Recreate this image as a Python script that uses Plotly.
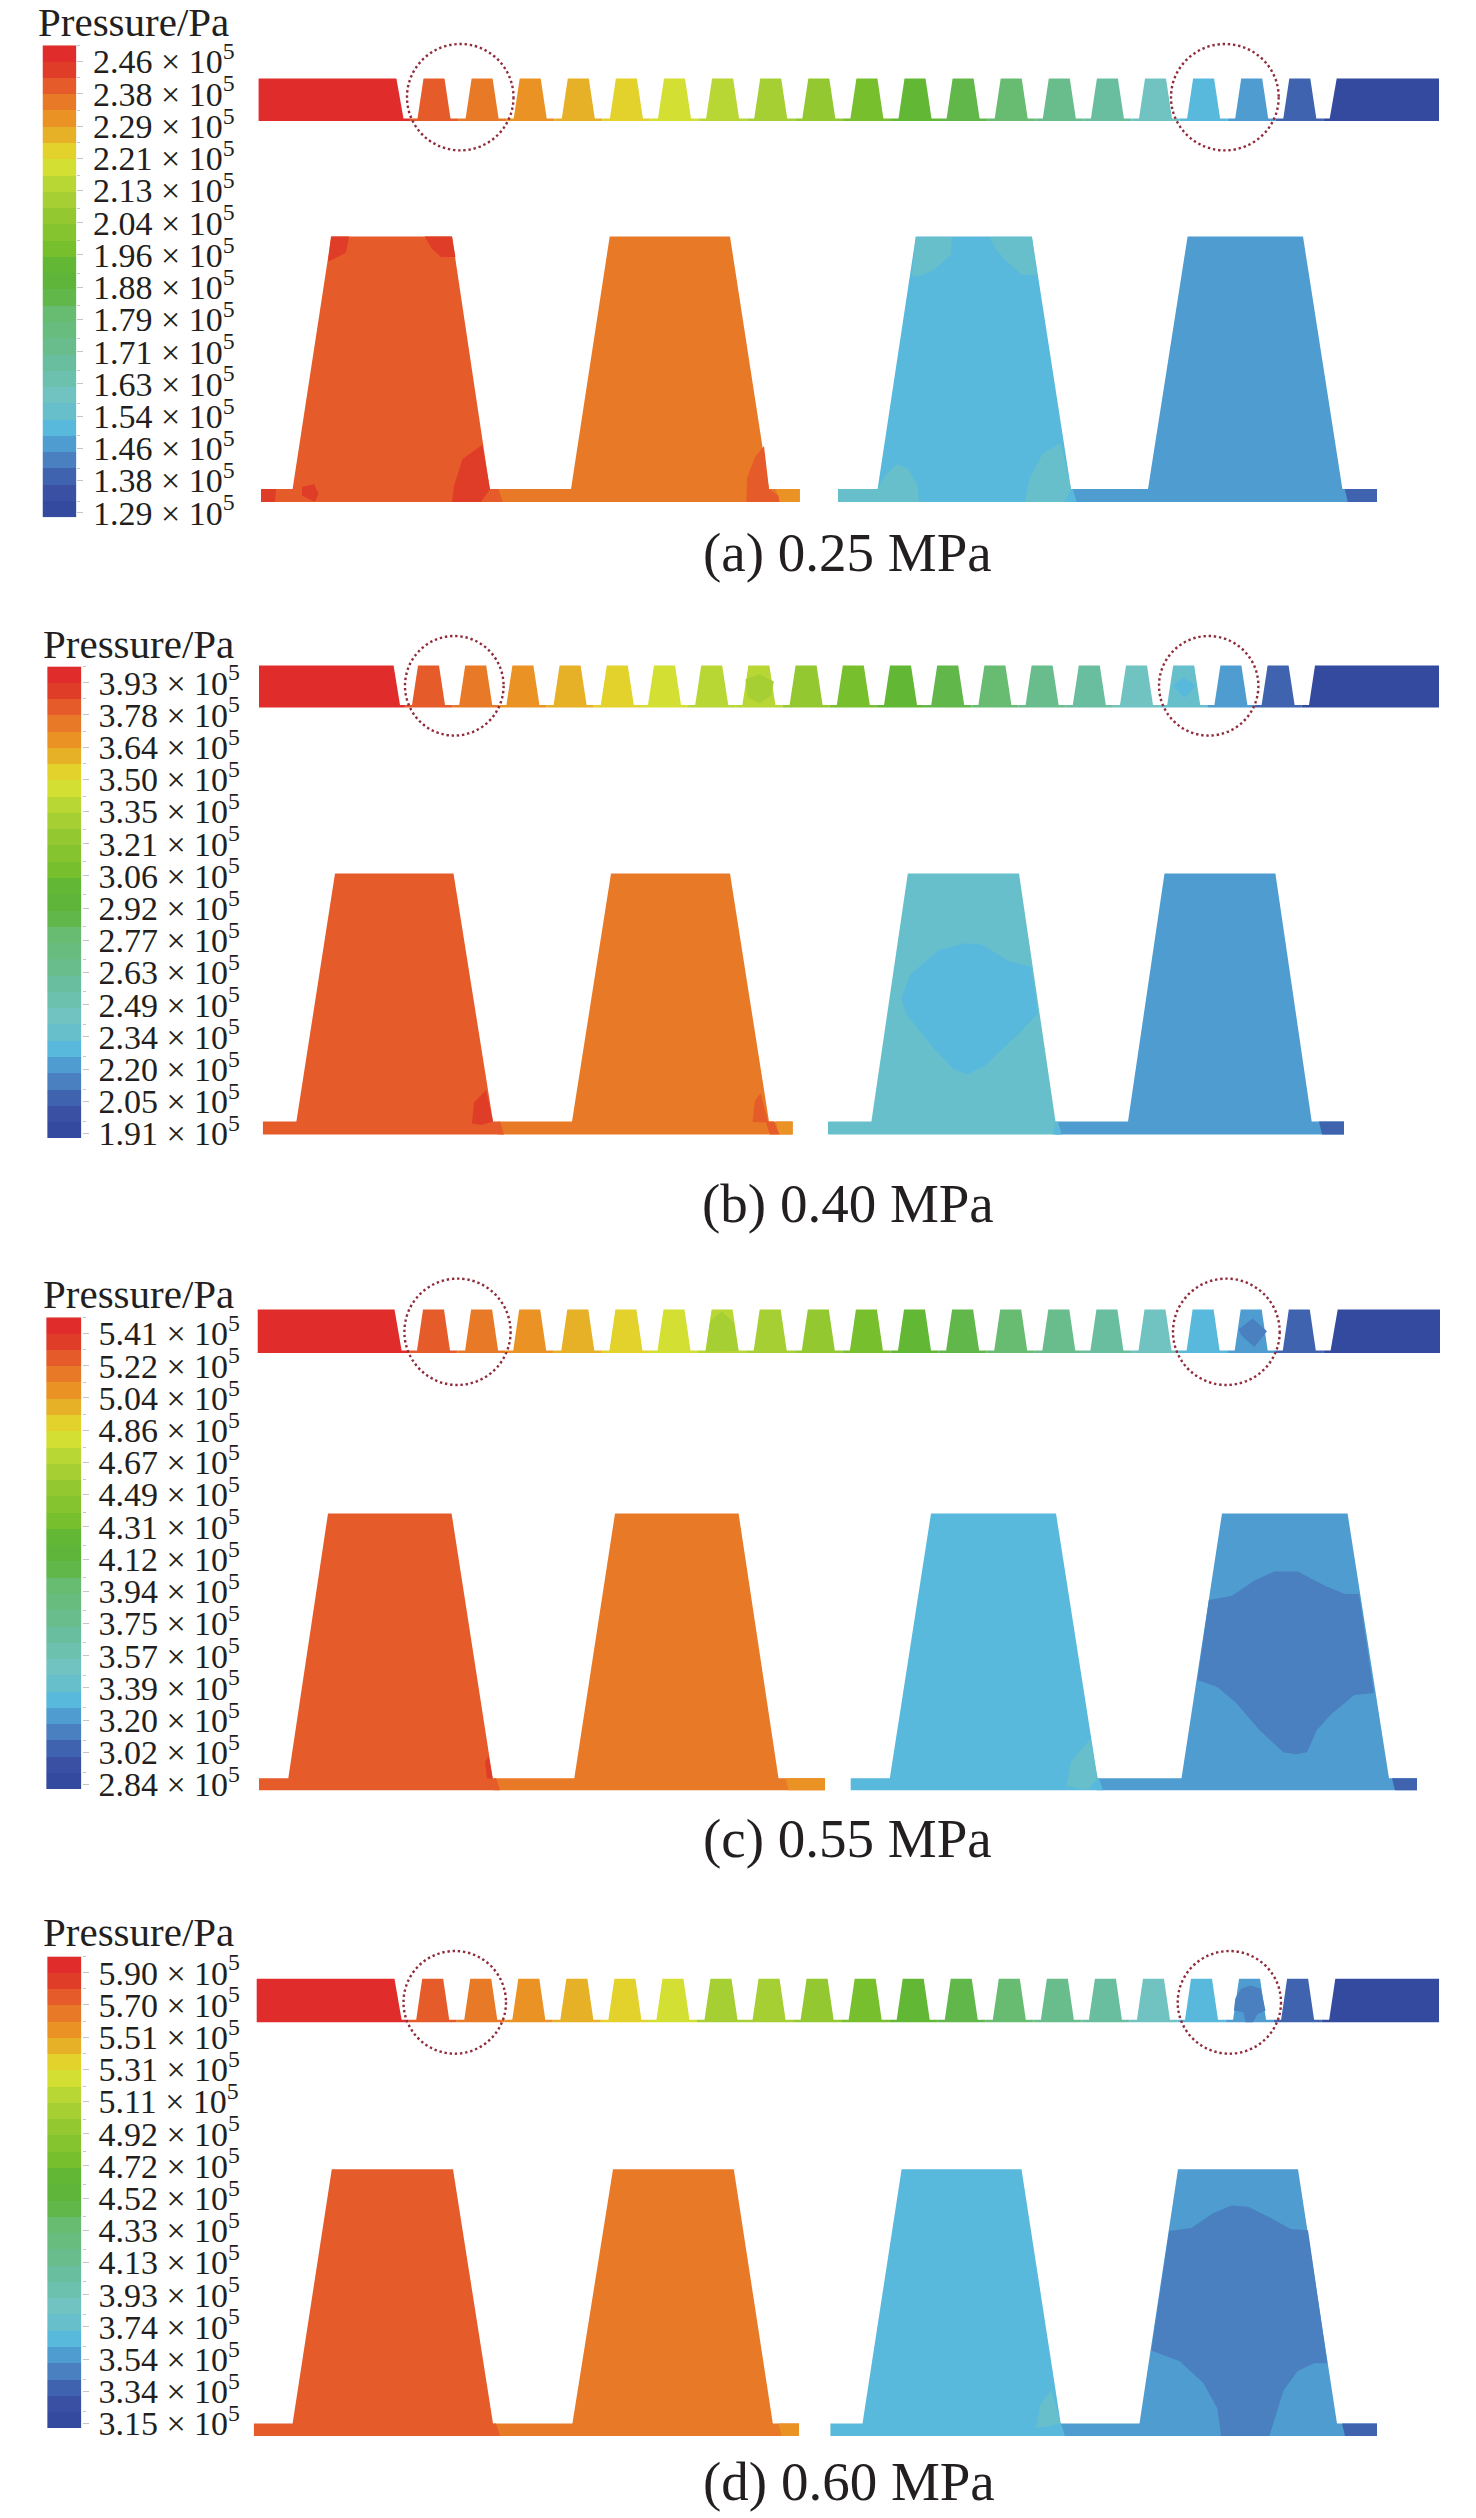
import plotly.graph_objects as go

# Pressure contours of a labyrinth seal at four inlet pressures.

PANELS = ["a", "b", "c", "d"]
CAPTIONS = ["(a) 0.25 MPa", "(b) 0.40 MPa", "(c) 0.55 MPa", "(d) 0.60 MPa"]
BAND_COLORS = ["#e02c2b", "#e03d28", "#e55b2a", "#e87a27", "#eb9224", "#e6b027", "#e2d22b", "#d3df32",
               "#b8d634", "#a6cf33", "#93c831", "#85c42f", "#78bf2e", "#62b734", "#5fb53a", "#62b74a",
               "#68bc72", "#68bc7e", "#69bd8c", "#6abea0", "#6cc0ae", "#70c3c1", "#68bfcc", "#58b9dc",
               "#4f9cd0", "#4a7fc0", "#3f63ae", "#3a50a3", "#334a9e"]

LEVELS_A = ["2.46", "2.38", "2.29", "2.21", "2.13", "2.04", "1.96", "1.88", "1.79", "1.71", "1.63", "1.54", "1.46", "1.38", "1.29"]
LEVELS_B = ["3.93", "3.78", "3.64", "3.50", "3.35", "3.21", "3.06", "2.92", "2.77", "2.63", "2.49", "2.34", "2.20", "2.05", "1.91"]
LEVELS_C = ["5.41", "5.22", "5.04", "4.86", "4.67", "4.49", "4.31", "4.12", "3.94", "3.75", "3.57", "3.39", "3.20", "3.02", "2.84"]
LEVELS_D = ["5.90", "5.70", "5.51", "5.31", "5.11", "4.92", "4.72", "4.52", "4.33", "4.13", "3.93", "3.74", "3.54", "3.34", "3.15"]
LEVELS = [LEVELS_A, LEVELS_B, LEVELS_C, LEVELS_D]

# colour bar box: left, right, top, bottom
BAR_A = [42.5, 76.3, 45.3, 517.3]
BAR_B = [47.2, 81.6, 666.4, 1138]
BAR_C = [46.2, 81.6, 1317.3, 1789]
BAR_D = [47.2, 81.6, 1956.4, 2428]
BARS = [BAR_A, BAR_B, BAR_C, BAR_D]

# band number (1 = top of the colour bar) of each of the 19 teeth
TEETH_A = [3, 4, 5, 6, 7, 8, 9, 10, 11, 13, 14, 16, 17, 19, 20, 22, 24, 25, 27]
TEETH_B = [3, 4, 5, 6, 7, 8, 9, 9, 11, 13, 14, 16, 17, 19, 20, 22, 23, 25, 27]
TEETH_D = [3, 4, 5, 6, 7, 8, 10, 10, 11, 13, 14, 16, 17, 19, 20, 22, 24, 25, 27]
TEETH = [TEETH_A, TEETH_B, TEETH_A, TEETH_D]

# strip: left, block top right, block foot right, first tooth centre, pitch,
# right block top left, right block foot left, right, top, land, bottom
STRIP_A = [258.6, 396.4, 403.5, 434, 48.1, 1336.7, 1329.7, 1439, 78.5, 118.6, 121]
STRIP_B = [259, 393.6, 400, 428.5, 47.2, 1315, 1309, 1439, 665.6, 705.1, 707.5]
STRIP_C = [257.7, 394.5, 401.6, 433.5, 48.1, 1337.7, 1330.6, 1440, 1309.4, 1350.5, 1352.9]
STRIP_D = [256.7, 394.5, 401.6, 432.7, 48.05, 1335.3, 1329.2, 1439, 1978.8, 2019.8, 2022.2]
STRIPS = [STRIP_A, STRIP_B, STRIP_C, STRIP_D]
TOOTH_TOP = 10.5
TOOTH_FOOT = 16.5

# enlarged teeth, x stops from left to right for the four teeth and their lands
BIG_X_A = [261, 292.6, 331.3, 452, 489.8, 571, 609.7, 730, 769, 799.7, 838, 877.6, 915.8, 1031.9, 1071, 1148, 1187.6, 1303, 1342.4, 1377]
BIG_X_B = [262.9, 296.4, 335, 453.5, 493, 572, 611, 730, 769, 792.6, 828, 871.4, 907.8, 1019, 1055.5, 1128, 1164.5, 1275.4, 1311.7, 1344]
BIG_X_C = [259, 288.3, 328, 451.6, 492.7, 574.3, 615, 738.6, 778.5, 825, 850.7, 889.8, 931, 1056, 1097.5, 1181.5, 1222, 1347.6, 1389, 1417]
BIG_X_D = [253.9, 292.6, 331.8, 453, 493, 572.4, 613, 733.8, 772.8, 799, 830.4, 862.5, 901.6, 1021.5, 1060.7, 1139.5, 1178, 1298, 1337, 1377]
BIG_X = [BIG_X_A, BIG_X_B, BIG_X_C, BIG_X_D]
BIG_Y_A = [236.5, 489, 502]
BIG_Y_B = [873.6, 1121.5, 1134.5]
BIG_Y_C = [1513.5, 1778.2, 1790.2]
BIG_Y_D = [2169.2, 2423.5, 2436]
BIG_Y = [BIG_Y_A, BIG_Y_B, BIG_Y_C, BIG_Y_D]
# where the land colour changes: tooth 1/2, tail of 2, tooth 3/4, tail of 4
SPLIT_A = [502.6, 776, 1076.7, 1344.8]
SPLIT_B = [504, 776, 1061.6, 1319]
SPLIT_C = [500, 785.5, 1103, 1392]
SPLIT_D = [500, 778.5, 1065, 1342]
SPLITS = [SPLIT_A, SPLIT_B, SPLIT_C, SPLIT_D]
BIG_BANDS_A = [3, 4, 5, 24, 25, 27]
BIG_BANDS_B = [3, 4, 5, 23, 25, 27]
BIG_BANDS = [BIG_BANDS_A, BIG_BANDS_B, BIG_BANDS_A, BIG_BANDS_A]

# contour patches: band number, x, y
PATCHES_A = [
    (2, [331, 349, 346, 330, 328], [236.5, 236.5, 252.6, 261, 261]),
    (2, [424.7, 452, 455.4, 441, 431.8], [236.5, 236.5, 257, 257, 248.8]),
    (2, [452, 454, 462.5, 482.3, 490, 481], [502, 486, 459, 444.7, 489, 502]),
    (2, [302, 314, 318.5, 315, 302], [487, 484, 493.7, 502, 495.6]),
    (2, [261, 276, 275, 261], [489, 489, 502, 502]),
    (3, [747, 755, 764, 769, 778.5, 779.4, 746.4], [478, 457, 446, 489, 495.6, 502, 502]),
    (23, [915.8, 952, 950.7, 934, 920, 911.6], [237, 237, 254.5, 270, 276, 276]),
    (23, [989.4, 1031.9, 1037, 1021.5, 1005, 995.6], [237, 237, 275.6, 274.4, 260, 248.8]),
    (23, [838, 877.6, 886, 896.5, 908, 917.7, 919, 838], [489, 489, 474.6, 464.2, 468.8, 486, 502, 502]),
    (23, [1024.8, 1029.5, 1042.7, 1060.7, 1071, 1064], [502, 478.4, 453.5, 443.2, 489, 502]),
]
PATCHES_B = [
    (2, [472, 474, 486, 493, 481.4], [1123.5, 1102.5, 1089.9, 1121.5, 1125]),
    (3, [752.5, 755, 760.5, 768, 773.8, 779.4, 770, 766], [1122, 1100.5, 1093.4, 1121.5, 1121.5, 1134.5, 1134.5, 1122.5]),
    (24, [964.9, 981.4, 1009.7, 1031, 1038, 1019, 986, 967.2, 953, 934.2, 905.9, 901.2, 910.6, 938.9],
     [943.2, 944.4, 961.4, 966.9, 1013.6, 1033.3, 1065, 1074.4, 1068.9, 1049.1, 1013.6, 997.7, 974, 950.3]),
    (24, [1055.5, 1061.6, 1053], [1121.5, 1134.5, 1134.5]),
    (24, [1172.5, 1183.4, 1196, 1184.3], [685.4, 677.4, 685.4, 698]),
    (10, [745.4, 759.6, 773.8, 771.4, 759.6, 747.8], [679.4, 674.3, 681.4, 695.2, 703.2, 697.2]),
]
PATCHES_C = [
    (2, [485, 488.5, 492.7, 487], [1762, 1756, 1778.4, 1778.4]),
    (23, [1066.3, 1071, 1090, 1097.5, 1087.6], [1785.9, 1762, 1739.2, 1778, 1790]),
    (26, [1208.9, 1231.5, 1255, 1274, 1297.6, 1325.9, 1344.8, 1359, 1374, 1354.2, 1330.6, 1316.5, 1307, 1295.2, 1283.4, 1259.8, 1236.2, 1217.4, 1197.5],
     [1600, 1596, 1580.3, 1571.6, 1571.6, 1586.2, 1594.1, 1594.1, 1693, 1695, 1714.7, 1730.5, 1752.3, 1754.3, 1752.3, 1730.5, 1702.9, 1687, 1680]),
    (26, [1238.6, 1252.7, 1267, 1254.2, 1241], [1329.2, 1318.5, 1331.2, 1347, 1335.1]),
    (10, [710.2, 722, 733.8, 738.5, 705.5], [1321.3, 1311.4, 1323.3, 1351, 1351.7]),
]
PATCHES_D = [
    (23, [1036.1, 1040.4, 1051.2, 1060.7, 1047.5], [2428.2, 2404.5, 2390, 2423.5, 2426.2]),
    (26, [1169.2, 1191.4, 1212.6, 1231.5, 1248, 1269.3, 1290.5, 1308, 1327.3, 1314, 1297.6, 1283.4, 1269.3, 1221.1, 1217.4, 1203.2, 1179.6, 1151.3],
     [2231.1, 2228, 2213.4, 2205.5, 2206.7, 2217.3, 2229.1, 2230.3, 2363.2, 2363.2, 2371, 2390.7, 2436, 2436, 2408.5, 2382.8, 2361.2, 2350.5]),
    (26, [1235.3, 1241, 1250.4, 1260.8, 1265.5, 1257.5, 1252.8, 1245.7, 1243.3, 1233.9],
     [1998.5, 1988.7, 1985.5, 1988.7, 2010.4, 2014.3, 2022.2, 2022.2, 2012.3, 2010.4]),
]
PATCHES = [PATCHES_A, PATCHES_B, PATCHES_C, PATCHES_D]

# dotted circles around the enlarged teeth: x0, x1, y0, y1
CIRCLES_A = [[407, 513.5, 44, 150.4], [1171, 1278.7, 44, 150.4]]
CIRCLES_B = [[405, 503.6, 636, 735.6], [1159, 1258.4, 636, 735.6]]
CIRCLES_C = [[404.4, 510.6, 1278.6, 1385], [1173, 1279.7, 1278.6, 1385]]
CIRCLES_D = [[403.5, 506, 1951, 2053.7], [1177.7, 1281, 1951, 2053.7]]
CIRCLES = [CIRCLES_A, CIRCLES_B, CIRCLES_C, CIRCLES_D]

TITLE_POS = [[37.8, 22], [43.4, 643.8], [42.5, 1293.6], [42.5, 1932.3]]
CAPTION_POS = [[847, 552], [848, 1203.3], [847, 1838], [848.7, 2481.8]]

WIDTH = 1476
HEIGHT = 2518
TEXT_COLOR = "#231f20"
SERIF = "Liberation Serif"
LABEL_STEP = 1.98  # the printed labels run a touch tighter than the bands


def band(number):
    return BAND_COLORS[number - 1]


def add_shape(fig, xs, ys, color):
    fig.add_trace(go.Scatter(x=xs, y=ys, mode="lines", fill="toself", fillcolor=color,
                             line=dict(width=0, color=color), hoverinfo="skip", showlegend=False))


def draw_strip(fig, strip, teeth):
    left, blk_top, blk_foot, first, pitch, r_top, r_foot, right, top, land, bottom = strip
    add_shape(fig, [left, blk_top, blk_foot, first - pitch / 2, first - pitch / 2, left],
              [top, top, land, land, bottom, bottom], band(1))
    for i, number in enumerate(teeth):
        c = first + i * pitch
        add_shape(fig,
                  [c - pitch / 2, c - TOOTH_FOOT, c - TOOTH_TOP, c + TOOTH_TOP, c + TOOTH_FOOT, c + pitch / 2, c + pitch / 2, c - pitch / 2],
                  [land, land, top, top, land, land, bottom, bottom], band(number))
    last = first + 18 * pitch + pitch / 2
    add_shape(fig, [last, r_foot, r_top, right, right, last],
              [land, land, top, top, bottom, bottom], band(29))


def draw_big(fig, xs, ys, split, bands):
    top, shoulder, bottom = ys
    # second and fourth tooth first, so the slanted splits sit on top of them
    add_shape(fig, [split[0] - 6, xs[5], xs[6], xs[7], xs[8], xs[9], xs[9], split[0] - 6],
              [shoulder, shoulder, top, top, shoulder, shoulder, bottom, bottom], band(bands[1]))
    add_shape(fig, [split[2] - 6, xs[15], xs[16], xs[17], xs[18], xs[19], xs[19], split[2] - 6],
              [shoulder, shoulder, top, top, shoulder, shoulder, bottom, bottom], band(bands[4]))
    add_shape(fig, [xs[0], xs[1], xs[2], xs[3], xs[4], split[0] - 4, split[0], xs[0]],
              [shoulder, shoulder, top, top, shoulder, shoulder, bottom, bottom], band(bands[0]))
    add_shape(fig, [split[1], xs[9], xs[9], split[1] + 3], [shoulder, shoulder, bottom, bottom], band(bands[2]))
    add_shape(fig, [xs[10], xs[11], xs[12], xs[13], xs[14], split[2] - 4, split[2], xs[10]],
              [shoulder, shoulder, top, top, shoulder, shoulder, bottom, bottom], band(bands[3]))
    add_shape(fig, [split[3], xs[19], xs[19], split[3] + 3], [shoulder, shoulder, bottom, bottom], band(bands[5]))


def main():
    fig = go.Figure()
    annotations = []
    shapes = []
    axes = {}

    for p in range(len(PANELS)):
        draw_strip(fig, STRIPS[p], TEETH[p])
        draw_big(fig, BIG_X[p], BIG_Y[p], SPLITS[p], BIG_BANDS[p])
        for number, xs, ys in PATCHES[p]:
            add_shape(fig, xs, ys, band(number))

        for x0, x1, y0, y1 in CIRCLES[p]:
            shapes.append(dict(type="circle", xref="x", yref="y", x0=x0, x1=x1, y0=y0, y1=y1,
                               line=dict(color="#8f2b3a", width=2.4, dash="2.4px,2.8px")))

        annotations.append(dict(x=TITLE_POS[p][0], y=TITLE_POS[p][1], xref="x", yref="y", text="Pressure/Pa",
                                showarrow=False, xanchor="left", yanchor="middle", xshift=-2,
                                font=dict(family=SERIF, size=41, color=TEXT_COLOR)))
        annotations.append(dict(x=CAPTION_POS[p][0], y=CAPTION_POS[p][1], xref="x", yref="y", text=CAPTIONS[p],
                                showarrow=False, xanchor="center", yanchor="middle",
                                font=dict(family=SERIF, size=55, color=TEXT_COLOR)))

        # colour bar on its own small axes
        n = len(BAND_COLORS)
        scale = []
        for i in range(n):
            color = BAND_COLORS[n - 1 - i]
            scale += [[i / n, color], [(i + 1) / n, color]]
        num = p + 2
        fig.add_trace(go.Heatmap(z=[[i] for i in range(n)], x=[0, 1], y=list(range(n + 1)),
                                 zmin=-0.5, zmax=n - 0.5, colorscale=scale, showscale=False,
                                 hoverinfo="skip", xaxis=f"x{num}", yaxis=f"y{num}"))
        x0, x1, y0, y1 = BARS[p]
        axes[f"xaxis{num}"] = dict(domain=[x0 / WIDTH, x1 / WIDTH], anchor=f"y{num}", range=[0, 1],
                                   visible=False, automargin=False)
        axes[f"yaxis{num}"] = dict(domain=[1 - y1 / HEIGHT, 1 - y0 / HEIGHT], anchor=f"x{num}", side="right",
                                   range=[0, n], tickmode="array",
                                   tickvals=[n - 1 - i * LABEL_STEP for i in range(len(LEVELS[p]))],
                                   ticktext=[f"{v} × 10<sup>5</sup>" for v in LEVELS[p]],
                                   ticks="outside", ticklen=6, tickwidth=1, tickcolor="#c4c4c4",
                                   minor=dict(tickmode="array", tickvals=list(range(n, 0, -2)), ticks="outside",
                                              ticklen=3, tickwidth=1, tickcolor="#c4c4c4"),
                                   tickfont=dict(family=SERIF, size=34, color=TEXT_COLOR), automargin=False,
                                   showgrid=False, zeroline=False, showline=False, ticklabelstandoff=3)

    fig.update_layout(
        width=WIDTH, height=HEIGHT, margin=dict(l=0, r=0, t=0, b=0),
        paper_bgcolor="white", plot_bgcolor="white", showlegend=False,
        xaxis=dict(domain=[0, 1], range=[0, WIDTH], visible=False, automargin=False),
        yaxis=dict(domain=[0, 1], range=[HEIGHT, 0], visible=False, automargin=False),
        annotations=annotations, shapes=shapes, **axes,
    )
    fig.write_html("out.html", config={"displayModeBar": False},
                   post_script="document.body.style.margin='0';")


if __name__ == '__main__':
    main()
